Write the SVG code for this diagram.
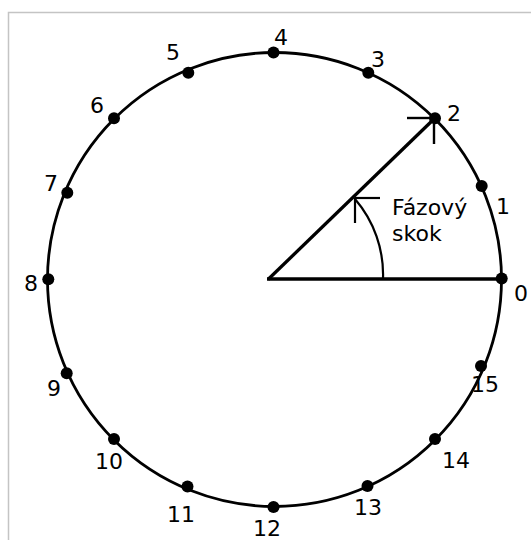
<svg xmlns="http://www.w3.org/2000/svg" width="531" height="540" viewBox="0 0 531 540">
<style>
.lbl{font-family:"DejaVu Sans",sans-serif;font-size:22px;fill:#000;text-anchor:middle}
.txt{font-family:"DejaVu Sans",sans-serif;font-size:22px;fill:#000}
.dot{fill:#000}
.ln{stroke:#000;fill:none;stroke-linecap:butt}
</style>
<rect x="0" y="0" width="531" height="540" fill="#fff"/>
<rect x="8.5" y="12.5" width="600" height="600" fill="#fff" stroke="#c4c4c4" stroke-width="1.5"/>
<g id="circle">
<circle cx="274.5" cy="279.5" r="227" class="ln" stroke-width="2.8"/>
</g>
<g id="connectors">
<line x1="267" y1="279" x2="501.7" y2="279" class="ln" stroke-width="3.3"/>
<line x1="268" y1="279.5" x2="435" y2="118" class="ln" stroke-width="3.3"/>
<line x1="407" y1="118" x2="435" y2="118" class="ln" stroke-width="2.4"/>
<line x1="434" y1="118" x2="434" y2="144" class="ln" stroke-width="2.4"/>
<path d="M 383 279 A 116 116 0 0 0 355 199" class="ln" stroke-width="2.2"/>
<line x1="355" y1="198" x2="380" y2="198" class="ln" stroke-width="2.2"/>
<line x1="355" y1="198" x2="355" y2="223" class="ln" stroke-width="2.2"/>
</g>
<g id="p0"><circle cx="501.7" cy="278.5" r="6" class="dot"/><text x="521" y="301" class="lbl">0</text></g>
<g id="p1"><circle cx="481.7" cy="186" r="6" class="dot"/><text x="503" y="214" class="lbl">1</text></g>
<g id="p2"><circle cx="435" cy="118.3" r="6" class="dot"/><text x="454" y="121" class="lbl">2</text></g>
<g id="p3"><circle cx="368.3" cy="72.7" r="6" class="dot"/><text x="378" y="67" class="lbl">3</text></g>
<g id="p4"><circle cx="273.5" cy="52.5" r="6" class="dot"/><text x="281" y="45" class="lbl">4</text></g>
<g id="p5"><circle cx="188.3" cy="72.7" r="6" class="dot"/><text x="173" y="60" class="lbl">5</text></g>
<g id="p6"><circle cx="114" cy="118.3" r="6" class="dot"/><text x="97" y="113" class="lbl">6</text></g>
<g id="p7"><circle cx="67.3" cy="192.7" r="6" class="dot"/><text x="51" y="191" class="lbl">7</text></g>
<g id="p8"><circle cx="48.3" cy="279.3" r="6" class="dot"/><text x="31" y="291" class="lbl">8</text></g>
<g id="p9"><circle cx="66.7" cy="373.3" r="6" class="dot"/><text x="54" y="396" class="lbl">9</text></g>
<g id="p10"><circle cx="114" cy="439" r="6" class="dot"/><text x="109" y="469" class="lbl">10</text></g>
<g id="p11"><circle cx="187.5" cy="486.5" r="6" class="dot"/><text x="181" y="522" class="lbl">11</text></g>
<g id="p12"><circle cx="273.5" cy="507" r="6" class="dot"/><text x="267" y="536" class="lbl">12</text></g>
<g id="p13"><circle cx="367.5" cy="486" r="6" class="dot"/><text x="368" y="515" class="lbl">13</text></g>
<g id="p14"><circle cx="435" cy="439" r="6" class="dot"/><text x="456" y="468" class="lbl">14</text></g>
<g id="p15"><circle cx="481" cy="366" r="6" class="dot"/><text x="485" y="392" class="lbl">15</text></g>
<g id="label"><text x="392" y="215" class="txt">Fázový</text><text x="392" y="241" class="txt">skok</text></g>
</svg>
